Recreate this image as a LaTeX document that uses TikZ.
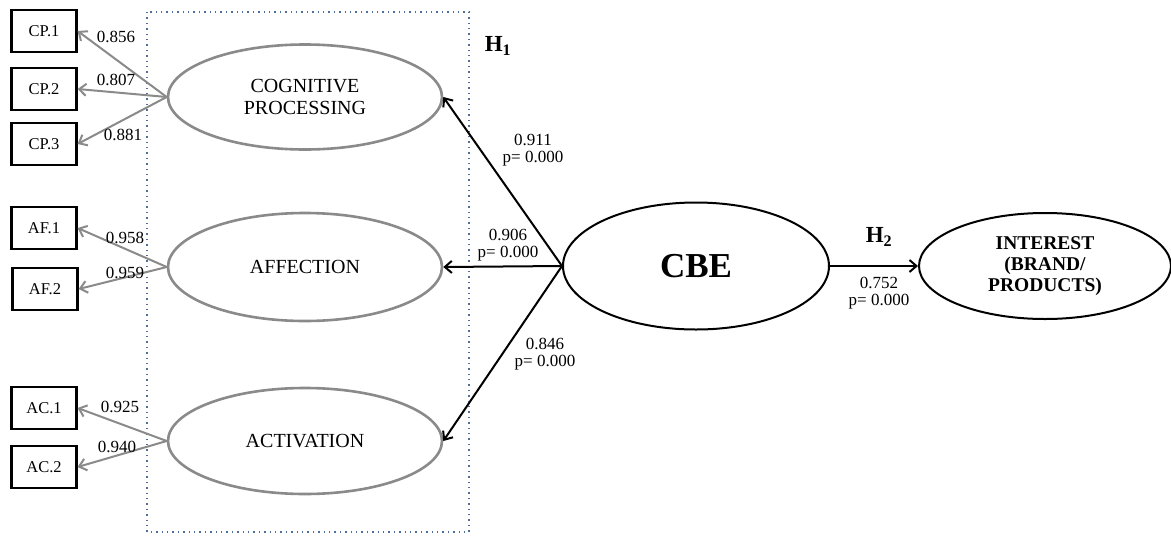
\documentclass[tikz,border=0pt]{standalone}
\usepackage{fontspec}
\setmainfont{Liberation Serif}
\usetikzlibrary{shapes.geometric,arrows.meta}
\definecolor{ellgray}{HTML}{8A8A8A}
\definecolor{dotblue}{HTML}{4F6F9A}
\tikzset{
  ind/.style={draw=black,line width=2.2pt,minimum width=65pt,minimum height=42pt,inner sep=0pt,font=\fontsize{16.5}{18}\selectfont},
  lat/.style={draw=ellgray,ellipse,line width=2.6pt,inner sep=0pt,align=center,font=\fontsize{20}{22}\selectfont},
  mainell/.style={draw=black,ellipse,line width=2pt,inner sep=0pt,align=center},
  load/.style={draw=ellgray,line width=2pt,-{Straight Barb[length=7pt,width=12pt,line width=2pt]}},
  path/.style={draw=black,line width=2pt,-{Straight Barb[length=7pt,width=12pt,line width=2pt]}},
  num/.style={inner sep=0pt,font=\fontsize{17}{18}\selectfont},
  coef/.style={inner sep=0pt,align=center,font=\fontsize{17}{17.5}\selectfont},
  hyp/.style={inner sep=0pt,font=\fontsize{23}{25}\selectfont\bfseries},
}
\begin{document}
\begin{tikzpicture}[x=1pt,y=-1pt]
\useasboundingbox (0,0) rectangle (1171,536);
% dotted box
\draw[dotblue,line width=1.7pt,dash pattern=on 1.4pt off 4pt] (147,12) rectangle (469,532);
% indicators
\node[ind] (cp1) at (44,31) {CP.1};
\node[ind] (cp2) at (44,89) {CP.2};
\node[ind] (cp3) at (44,144) {CP.3};
\node[ind] (af1) at (44,228) {AF.1};
\node[ind] (af2) at (45,289) {AF.2};
\node[ind] (ac1) at (44,408) {AC.1};
\node[ind] (ac2) at (44,467) {AC.2};
% latent
\node[lat,minimum width=274pt,minimum height=105pt] (cp) at (305,97) {COGNITIVE\\PROCESSING};
\node[lat,minimum width=274pt,minimum height=108pt] (af) at (305,267) {AFFECTION};
\node[lat,minimum width=274pt,minimum height=106pt] (ac) at (305,441) {ACTIVATION};
\node[mainell,minimum width=266pt,minimum height=127pt,font=\fontsize{35}{37}\selectfont\bfseries] (cbe) at (696,266) {CBE};
\node[mainell,minimum width=252pt,minimum height=106pt,font=\fontsize{19.5}{21}\selectfont\bfseries] (int) at (1045,266) {INTEREST\\(BRAND/\\PRODUCTS)};
% loadings
\draw[load] (cp.west) -- (cp1.east);
\draw[load] (cp.west) -- (cp2.east);
\draw[load] (cp.west) -- (cp3.east);
\draw[load] (af.west) -- (af1.east);
\draw[load] (af.west) -- (af2.east);
\draw[load] (ac.west) -- (ac1.east);
\draw[load] (ac.west) -- (ac2.east);
\node[num] (l1) at (116,37) {0.856};
\node[num] (l2) at (116,80) {0.807};
\node[num] (l3) at (123,135) {0.881};
\node[num] (l4) at (125,238) {0.958};
\node[num] (l5) at (125,273) {0.959};
\node[num] (l6) at (120,407) {0.925};
\node[num] (l7) at (117,447) {0.940};
% structural paths
\draw[path] (cbe.west) -- (cp.east);
\draw[path] (cbe.west) -- (af.east);
\draw[path] (cbe.west) -- (ac.east);
\draw[path] (cbe.east) -- (int.west);
\node[coef] (c1) at (533,150) {0.911\\p= 0.000};
\node[coef] (c2) at (508,245) {0.906\\p= 0.000};
\node[coef] (c3) at (545,354) {0.846\\p= 0.000};
\node[coef] (c4) at (879,293) {0.752\\p= 0.000};
\node[hyp] (h1) at (498,46) {H\textsubscript{1}};
\node[hyp] (h2) at (879,237) {H\textsubscript{2}};
\end{tikzpicture}
\end{document}
